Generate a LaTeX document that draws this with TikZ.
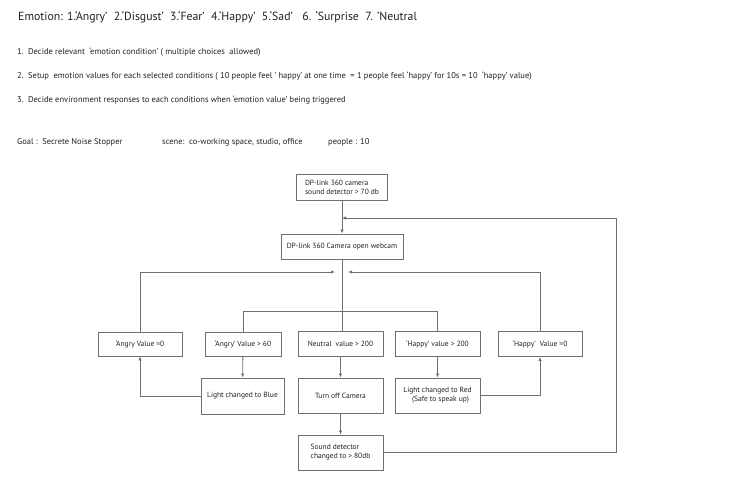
\documentclass[tikz,border=0pt]{standalone}
\usepackage{fontspec}
\setmainfont{PT Sans}
\usetikzlibrary{arrows.meta}

\definecolor{linegray}{HTML}{707070}
\definecolor{textgray}{HTML}{231F20}

\begin{document}
\begin{tikzpicture}[x=1bp,y=-1bp,
    box/.style={draw=linegray,line width=0.8bp,inner sep=1bp,text=textgray,
        font=\fontsize{7.5bp}{9bp}\selectfont},
    note/.style={anchor=west,inner sep=0pt,text=textgray,
        font=\fontsize{8.5bp}{10bp}\selectfont},
    link/.style={draw=linegray,line width=0.8bp},
    arr/.style={link,-{Latex[length=4bp,width=3.4bp]}}]

        % Fix the page size
        \useasboundingbox (0,0) rectangle (750,497);

        % Header texts
        \node[note,font=\fontsize{11.8bp}{13bp}\selectfont] (title) at (18,17)
            {Emotion: 1.‘Angry’\ \ 2.‘Disgust’\ \ 3.‘Fear’\ \ 4.‘Happy’\ \ 5.‘Sad’\ \ \ 6. ‘Surprise\ \ 7. ’Neutral};
        \node[note] (stepone) at (17,52) {1.\ \ Decide relevant\ \ ‘emotion condition’ ( multiple choices\ \ allowed)};
        \node[note] (steptwo) at (17,76) {2.\ \ Setup\ \ emotion values for each selected conditions ( 10 people feel ’ happy’ at one time\ \ = 1 people feel ‘happy’ for 10s = 10\ \ ‘happy’ value)};
        \node[note] (stepthree) at (17,100) {3.\ \ Decide environment responses to each conditions when ‘emotion value’ being triggered};

        % Goal, scene and people
        \node[note] (goal) at (17,142) {Goal :\ \ Secrete Noise Stopper};
        \node[note] (scene) at (162,142) {scene:\ \ co-working space, studio, office};
        \node[note] (people) at (328,142) {people : 10};

        % Camera boxes
        \node[box,minimum width=91bp,minimum height=26bp,align=left] (detector) at (342,187)
            {DP-link 360 camera\\sound detector > 70 db};
        \node[box,minimum width=122bp,minimum height=25bp] (webcam) at (342,246.5)
            {DP-link 360 Camera open webcam};

        % Emotion value boxes
        \node[box,minimum width=84bp,minimum height=24bp] (angryzero) at (140,344) {‘Angry Value =0\hspace{20bp}};
        \node[box,minimum width=76bp,minimum height=24bp] (angrysixty) at (243,344) {‘Angry’ Value > 60};
        \node[box,minimum width=85bp,minimum height=25bp] (neutral) at (340.5,344) {Neutral\ \ value > 200};
        \node[box,minimum width=85bp,minimum height=25bp] (happytwo) at (437.5,344) {‘Happy’ value > 200};
        \node[box,minimum width=84bp,minimum height=25bp] (happyzero) at (540,344) {‘Happy’\ \ Value =0};

        % Response boxes
        \node[box,minimum width=83bp,minimum height=36bp] (blue) at (242.5,396) {Light changed to Blue};
        \node[box,minimum width=85bp,minimum height=35bp] (camoff) at (340.5,395.5) {Turn off Camera};
        \node[box,minimum width=85bp,minimum height=35bp,align=center] (red) at (437.5,395.5)
            {Light changed to Red\\\ \ \ (Safe to speak up)};
        \node[box,minimum width=85bp,minimum height=35bp,align=left] (sound) at (340.5,452.5)
            {Sound detector\\changed to > 80db};

        % Join points on the main line
        \coordinate (loopin) at (342,218);
        \coordinate (joinleft) at (335,272);
        \coordinate (joinright) at (348,272);
        \coordinate (loopcorner) at (616,218);

        % Main line
        \draw[arr] (detector) -- (webcam);
        \draw[link] (webcam.south) -- (webcam.south |- neutral.north);
        \draw[link] (angrysixty.north) |- ++(0,-20) -| (happytwo.north);

        % Back to the camera when value is zero
        \draw[arr] (angryzero.north) |- (joinleft);
        \draw[arr] (happyzero.north) |- (joinright);

        % Responses
        \draw[arr] (angrysixty) -- (blue);
        \draw[arr] (neutral) -- (camoff);
        \draw[arr] (happytwo) -- (red);
        \draw[arr] (camoff) -- (sound);
        \draw[arr] (blue.west) -| (angryzero.south);
        \draw[arr] (red.east) -| (happyzero.south);

        % Loop from sound detector
        \draw[arr] (sound.east) -| (loopcorner) -- (loopin);
    \end{tikzpicture}
\end{document}
